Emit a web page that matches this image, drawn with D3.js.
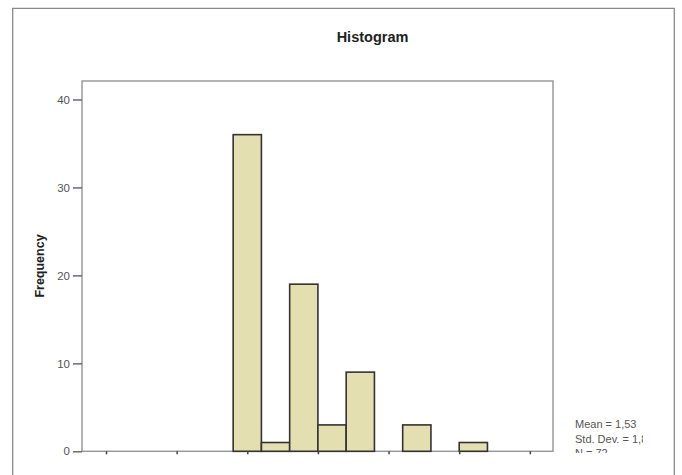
<!DOCTYPE html>
<style>
body { margin: 0; background: #fff; }
.axis .domain { display: none; }
text { font-family: Arial, "Liberation Sans", sans-serif; }
</style>
<svg width="682" height="475"></svg>
<script src="https://d3js.org/d3.v7.min.js"></script>
<script>

// bin centres (width 1) and counts
var binCenters = [0, 1, 2, 3, 4, 5, 6, 7, 8];
var counts = [36, 1, 19, 3, 9, 0, 3, 0, 1];
var xTicks = [-5, -2.5, 0, 2.5, 5, 7.5, 10];
var yTicks = [0, 10, 20, 30, 40];
var stats = ["Mean = 1,53", "Std. Dev. = 1,84", "N = 72"];

var svg = d3.select("svg"),
    plot = {left: 82, right: 553, top: 81, bottom: 451.3};

// outer frame (bottom cut off)
svg.append("path")
    .attr("d", "M12.7,476V8.3H674.3V476")
    .attr("fill", "none")
    .attr("stroke", "#8a8a8a")
    .attr("stroke-width", 1.3);

svg.append("text")
    .attr("x", 372.5)
    .attr("y", 42)
    .attr("text-anchor", "middle")
    .attr("font-size", 14.5)
    .attr("font-weight", "bold")
    .attr("fill", "#222")
    .text("Histogram");

var x = d3.scaleLinear().domain([-5.85, 10.82]).range([plot.left, plot.right]);
var y = d3.scaleLinear().domain([0, 42.1]).range([plot.bottom, plot.top]);

// plot frame
svg.append("rect")
    .attr("x", plot.left)
    .attr("y", plot.top)
    .attr("width", plot.right - plot.left)
    .attr("height", plot.bottom - plot.top)
    .attr("fill", "none")
    .attr("stroke", "#9a9a9a")
    .attr("stroke-width", 1.5);

svg.append("g")
  .selectAll("rect")
  .data(binCenters.map(function(c, i) { return {c: c, n: counts[i]}; })
                  .filter(function(d) { return d.n > 0; }))
  .enter().append("rect")
    .attr("x", function(d) { return x(d.c - 0.5); })
    .attr("y", function(d) { return y(d.n); })
    .attr("width", function(d) { return x(d.c + 0.5) - x(d.c - 0.5); })
    .attr("height", function(d) { return y(0) - y(d.n); })
    .attr("fill", "#e4dfb1")
    .attr("stroke", "#333")
    .attr("stroke-width", 1.6);

svg.append("g")
    .attr("class", "axis")
    .attr("transform", "translate(" + plot.left + ",0)")
    .call(d3.axisLeft(y).tickValues(yTicks).tickSize(9).tickPadding(3))
    .call(function(g) {
      g.selectAll("line").attr("stroke", "#555").attr("stroke-width", 1.3);
      g.selectAll("text").attr("fill", "#555").attr("font-size", 11.5)
        .attr("font-family", "Arial, 'Liberation Sans', sans-serif");
    });

svg.append("g")
    .attr("class", "axis")
    .attr("transform", "translate(0," + plot.bottom + ")")
    .call(d3.axisBottom(x).tickValues(xTicks).tickSize(3).tickFormat(""))
    .call(function(g) {
      g.selectAll("line").attr("stroke", "#444").attr("stroke-width", 1.5);
    });

svg.append("text")
    .attr("transform", "translate(44,266) rotate(-90)")
    .attr("text-anchor", "middle")
    .attr("font-size", 12.5)
    .attr("font-weight", "bold")
    .attr("fill", "#222")
    .text("Frequency");

// stats box, clipped as in the source
svg.append("clipPath").attr("id", "statclip")
  .append("rect").attr("x", 560).attr("y", 400).attr("width", 83).attr("height", 53);

svg.append("g")
    .attr("clip-path", "url(#statclip)")
  .selectAll("text")
  .data(stats)
  .enter().append("text")
    .attr("x", 575)
    .attr("y", function(d, i) { return 428 + i * 14.5; })
    .attr("font-size", 11)
    .attr("fill", "#555")
    .text(function(d) { return d; });

</script>
